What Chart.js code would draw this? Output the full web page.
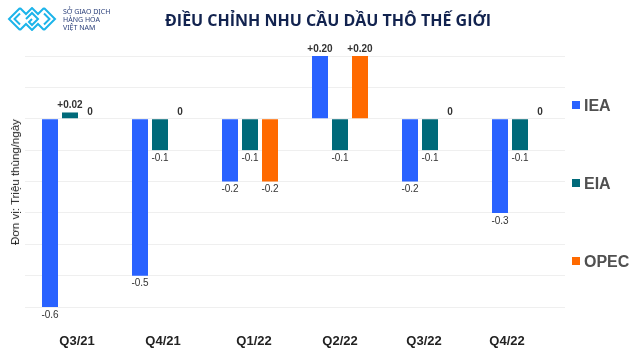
<!DOCTYPE html>
<html lang="vi">
<head>
<meta charset="utf-8">
<title>Điều chỉnh nhu cầu dầu thô thế giới</title>
<script src="https://cdn.jsdelivr.net/npm/chart.js@4"></script>
<style>
    html, body { margin: 0; padding: 0; background: #fff; }
    #wrap { position: relative; width: 640px; height: 360px; overflow: hidden; font-family: "Liberation Sans", Arial, sans-serif; }
    #chart { position: absolute; left: 0; top: 0; }
    #title { position: absolute; left: 153px; top: 9px; width: 350px; text-align: center; white-space: nowrap; font: bold 16px "Open Sans", sans-serif; color: #12234f; }
    #unit { position: absolute; left: 15px; top: 182px; transform: translate(-50%, -50%) rotate(-90deg); white-space: nowrap; font-size: 11.5px; color: #222; }
    #brand { position: absolute; left: 63px; top: 8px; font: 7px/7.8px "Noto Sans", sans-serif; color: #2a3f7a; white-space: nowrap; }
    #logo { position: absolute; left: 7px; top: 7px; }
    .key { position: absolute; left: 572px; font-weight: bold; font-size: 16px; color: #505050; line-height: 16px; white-space: nowrap; }
    .key i { display: inline-block; width: 8px; height: 8px; margin-right: 4px; vertical-align: 2px; }
</style>
</head>
<body>
<div id="wrap">
    <canvas id="chart" width="640" height="360"></canvas>
    <svg id="logo" width="52" height="24" viewBox="0 0 52 24" fill="none" stroke="#1cb4ea" stroke-width="2">
        <path d="M13 1 L2 12 L13 23"/>
        <path d="M13 6.5 L7.5 12 L13 17.5"/>
        <path d="M13 1 L19 7 L25 1 L31 7 L37 1"/>
        <path d="M13 23 L19 17 L25 23 L31 17 L37 23"/>
        <path d="M37 1 L48 12 L37 23"/>
        <path d="M37 6.5 L42.5 12 L37 17.5"/>
        <path d="M19 12 L25 6 L31 12 L25 18 L22 15 L25 12"/>
    </svg>
    <div id="brand">SỞ GIAO DỊCH<br>HÀNG HÓA<br>VIỆT NAM</div>
    <div id="title">ĐIỀU CHỈNH NHU CẦU DẦU THÔ THẾ GIỚI</div>
    <div id="unit">Đơn vị: Triệu thùng/ngày</div>
</div>
<script>
// --- Data ---
const QUARTERS = ['Q3/21', 'Q4/21', 'Q1/22', 'Q2/22', 'Q3/22', 'Q4/22'];
const IEA = [-0.6, -0.5, -0.2, 0.2, -0.2, -0.3];
const EIA = [0.02, -0.1, -0.1, -0.1, -0.1, -0.1];
const OPEC = [0, 0, -0.2, 0.2, 0, 0];

const SERIES_NAMES = ['IEA', 'EIA', 'OPEC'];
const SERIES_COLORS = ['#2962ff', '#006a7a', '#ff6a00'];
const LEGEND_TOPS = [98, 176, 254];

// the quarter labels are not centred under their groups in the original
const QUARTER_NUDGE = [7, 3, 4, 0, -6, -13];

// --- Helpers ---
function formatValue(v) {
    if (v === 0) return '0';
    return v > 0 ? '+' + v.toFixed(2) : v.toFixed(1);
}

// writes the value above or below each bar, and the quarter names under the plot
const valueLabels = {
    id: 'valueLabels',
    afterDatasetsDraw(chart) {
        const ctx = chart.ctx;
        ctx.save();
        ctx.textAlign = 'center';
        ctx.textBaseline = 'middle';
        chart.data.datasets.forEach((ds, i) => {
            chart.getDatasetMeta(i).data.forEach((bar, j) => {
                const v = ds.data[j];
                ctx.font = (v >= 0 ? 'bold 10px' : '10px') + ' "Liberation Sans", sans-serif';
                ctx.fillStyle = '#333';
                ctx.fillText(formatValue(v), bar.x, v < 0 ? bar.y + 8 : bar.y - 7);
            });
        });
        ctx.font = 'bold 13px "Liberation Sans", sans-serif';
        ctx.fillStyle = '#222';
        QUARTERS.forEach((q, i) => {
            ctx.fillText(q, chart.scales.x.getPixelForValue(i) + QUARTER_NUDGE[i], chart.scales.x.bottom - 7);
        });
        ctx.restore();
    }
};

// --- Legend ---
const wrap = document.getElementById('wrap');
SERIES_NAMES.forEach((name, i) => {
    const key = document.createElement('div');
    key.className = 'key';
    key.style.top = LEGEND_TOPS[i] + 'px';
    key.innerHTML = `<i style="background:${SERIES_COLORS[i]}"></i>${name}`;
    wrap.appendChild(key);
});

// --- Chart ---
new Chart(document.getElementById('chart'), {
    type: 'bar',
    data: {
        labels: QUARTERS,
        datasets: [
            { label: SERIES_NAMES[0], data: IEA, backgroundColor: SERIES_COLORS[0] },
            { label: SERIES_NAMES[1], data: EIA, backgroundColor: SERIES_COLORS[1] },
            { label: SERIES_NAMES[2], data: OPEC, backgroundColor: SERIES_COLORS[2] }
        ]
    },
    options: {
        responsive: false,
        animation: false,
        layout: { padding: { left: 25, right: 75, top: 56, bottom: 12 } },
        datasets: { bar: { categoryPercentage: 0.6667, barPercentage: 0.8 } },
        plugins: { legend: { display: false }, tooltip: { enabled: false } },
        scales: {
            x: {
                grid: { display: false, drawTicks: false },
                border: { display: false },
                afterFit(scale) { scale.height = 41; },
                ticks: { display: false }
            },
            y: {
                min: -0.6,
                max: 0.2,
                grid: { color: '#efefef', drawTicks: false },
                border: { display: false },
                ticks: { display: false, stepSize: 0.1 }
            }
        }
    },
    plugins: [valueLabels]
});
</script>
</body>
</html>
